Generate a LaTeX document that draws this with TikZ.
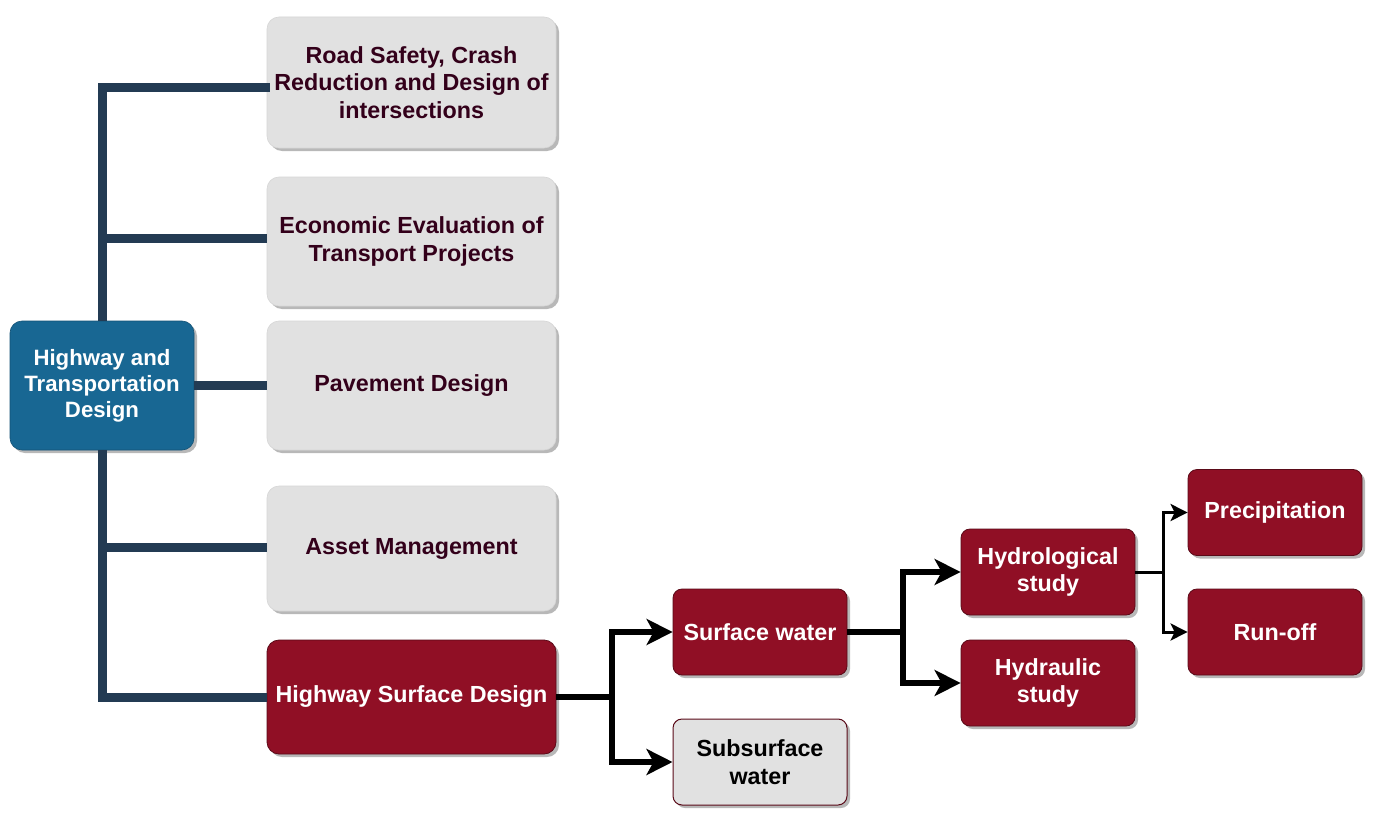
\documentclass[tikz,border=0pt]{standalone}
\usepackage{fontspec}
\setmainfont{Liberation Sans}
\usetikzlibrary{arrows.meta,shadows,calc}
\definecolor{mainblue}{HTML}{186793}
\definecolor{navy}{HTML}{233B53}
\definecolor{wine}{HTML}{900F25}
\definecolor{wineborder}{HTML}{5A0A18}
\definecolor{boxgray}{HTML}{E1E1E1}
\definecolor{grayborder}{HTML}{D6D6D6}
\definecolor{darktext}{HTML}{33001A}
\tikzset{
  shad/.style={drop shadow={shadow xshift=3pt,shadow yshift=-3pt,fill=black!28,opacity=1}},
  base/.style={rounded corners=12pt,align=center,font=\bfseries\fontsize{23.3}{27.8}\selectfont,inner sep=2pt,shad},
  bluebox/.style={base,fill=mainblue,draw=mainblue!80!black,line width=0.6pt,text=white,font=\bfseries\fontsize{22.2}{26}\selectfont},
  graybox/.style={base,fill=boxgray,draw=grayborder,line width=0.6pt,text=darktext,minimum width=289pt},
  redbox/.style={base,fill=wine,draw=wineborder,line width=0.8pt,text=white},
  smallred/.style={redbox,rounded corners=9pt,minimum width=174pt,minimum height=86pt},
  subbox/.style={base,rounded corners=9pt,fill=boxgray,draw=wineborder,line width=1pt,text=black,minimum width=174pt,minimum height=86pt},
  trunk/.style={draw=navy,line width=9pt},
  bigarrow/.style={draw=black,line width=6pt,-{Stealth[length=26pt,width=26pt,inset=7pt]}},
  smallarrow/.style={draw=black,line width=3pt,-{Stealth[length=17pt,width=17pt,inset=4pt]}}
}
\begin{document}
\begin{tikzpicture}[x=1pt,y=-1pt]
\useasboundingbox[fill=white] (0,0) rectangle (1386,824);
% nodes
\node[bluebox,minimum width=184pt,minimum height=129pt] (main) at (102,385.5) {Highway and\\Transportation\\Design};
\node[graybox,minimum height=131pt] (road) at (411.5,82.5) {Road Safety, Crash\\Reduction and Design of\\intersections};
\node[graybox,minimum height=129pt] (econ) at (411.5,241.5) {Economic Evaluation of\\Transport Projects};
\node[graybox,minimum height=129pt] (pave) at (411.5,385.5) {Pavement Design};
\node[graybox,minimum height=125pt] (asset) at (411.5,548.5) {Asset Management};
\node[redbox,minimum width=289pt,minimum height=114pt] (hsd) at (411.5,697) {Highway Surface Design};
\node[smallred] (sw) at (760,632) {Surface water};
\node[subbox] (sub) at (760,762) {Subsurface\\water};
\node[smallred] (hyd) at (1048,572) {Hydrological\\study};
\node[smallred] (hydr) at (1048,683) {Hydraulic\\study};
\node[smallred] (prec) at (1275,512.5) {Precipitation};
\node[smallred] (run) at (1275,632) {Run-off};
% navy connectors
\draw[trunk] (main.north) |- ($(road.west)+(3,5.5)$);
\draw[trunk] (main.north) |- ($(econ.west)+(0,-3.5)$);
\draw[trunk] (main.east) -- (pave.west);
\draw[trunk] (main.south) |- ($(asset.west)+(0,-1.5)$);
\draw[trunk] (main.south) |- (hsd.west);
% black connectors
\coordinate (j1) at (612,697);
\coordinate (j2) at (903,632);
\coordinate (j3) at (1163,572);
\draw[line width=6pt] (hsd.east) -- (j1);
\draw[bigarrow] ($(j1)+(0,3)$) |- (sw.west);
\draw[bigarrow] ($(j1)+(0,-3)$) |- (sub.west);
\draw[line width=6pt] (sw.east) -- (j2);
\draw[bigarrow] ($(j2)+(0,3)$) |- (hyd.west);
\draw[bigarrow] ($(j2)+(0,-3)$) |- (hydr.west);
\draw[line width=3pt] (hyd.east) -- (j3);
\draw[smallarrow] ($(j3)+(0,1.5)$) |- (prec.west);
\draw[smallarrow] ($(j3)+(0,-1.5)$) |- (run.west);
\end{tikzpicture}
\end{document}
